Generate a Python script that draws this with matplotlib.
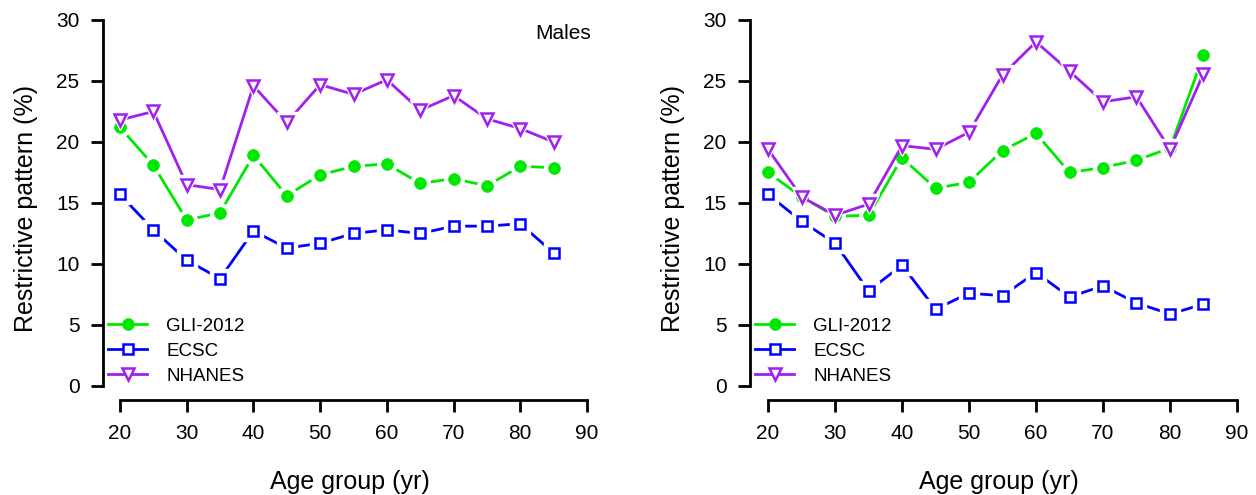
import matplotlib
matplotlib.use("Agg")
import matplotlib.pyplot as plt
from matplotlib.lines import Line2D

plt.rcParams['font.family'] = ['Liberation Sans', 'DejaVu Sans']

ages = [20, 25, 30, 35, 40, 45, 50, 55, 60, 65, 70, 75, 80, 85]

males_gli = [21.2, 18.1, 13.6, 14.2, 18.9, 15.6, 17.3, 18.0, 18.2, 16.6, 17.0, 16.4, 18.0, 17.9]
males_ecsc = [15.7, 12.8, 10.3, 8.8, 12.7, 11.3, 11.7, 12.5, 12.8, 12.5, 13.1, 13.1, 13.3, 10.9]
males_nhanes = [21.8, 22.5, 16.5, 16.1, 24.6, 21.6, 24.7, 23.9, 25.1, 22.6, 23.8, 21.9, 21.1, 20.0]

females_gli = [17.5, 15.5, 13.9, 14.0, 18.7, 16.2, 16.7, 19.3, 20.7, 17.5, 17.9, 18.5, 19.5, 27.1]
females_ecsc = [15.7, 13.5, 11.7, 7.8, 9.9, 6.3, 7.6, 7.4, 9.3, 7.3, 8.2, 6.8, 5.9, 6.7]
females_nhanes = [19.4, 15.5, 14.0, 14.9, 19.7, 19.4, 20.8, 25.5, 28.2, 25.8, 23.3, 23.7, 19.4, 25.6]

series_names = ['GLI-2012', 'ECSC', 'NHANES']
colors = ['#00E800', '#0000FF', '#A020F0']
markers = ['o', 's', 'v']

x_ticks = [20, 30, 40, 50, 60, 70, 80, 90]
y_ticks = [0, 5, 10, 15, 20, 25, 30]

W, H = 1256, 495
fig = plt.figure(figsize=(W / 100, H / 100), dpi=100)


def px_axes(left, top, right, bottom):
    return fig.add_axes([left / W, 1 - bottom / H, (right - left) / W, (bottom - top) / H])


def marker_kw(i):
    if markers[i] == 'o':
        return dict(marker='o', markersize=8.5, markerfacecolor=colors[i],
                    markeredgecolor=colors[i], markeredgewidth=0.5)
    if markers[i] == 's':
        return dict(marker='s', markersize=6.5, markerfacecolor='white',
                    markeredgecolor=colors[i], markeredgewidth=1.8)
    return dict(marker='v', markersize=8.5, markerfacecolor='white',
                markeredgecolor=colors[i], markeredgewidth=1.8)


def draw_panel(ax, data, xlim, title=None):
    for i, vals in enumerate(data):
        ax.plot(ages, vals, color=colors[i], lw=2.0, zorder=2 + i * 3, solid_capstyle='butt')
        ax.plot(ages, vals, ls='none', marker=markers[i], markersize=14,
                markerfacecolor='white', markeredgecolor='white', zorder=3 + i * 3)
        ax.plot(ages, vals, ls='none', zorder=4 + i * 3, **marker_kw(i))
    ax.set_xlim(*xlim)
    ax.set_ylim(-1.15, 30.3)
    ax.spines['top'].set_visible(False)
    ax.spines['right'].set_visible(False)
    ax.spines['left'].set_bounds(0, 30)
    ax.spines['bottom'].set_bounds(20, 90)
    for s in ('left', 'bottom'):
        ax.spines[s].set_linewidth(2.0)
    ax.set_xticks(x_ticks)
    ax.set_yticks(y_ticks)
    ax.tick_params(axis='y', length=8.5, width=2.0, labelsize=15, pad=8.5)
    ax.tick_params(axis='x', length=8.5, width=2.0, labelsize=15, pad=9)
    ax.set_xlabel('Age group (yr)', fontsize=18, labelpad=19)
    ax.set_ylabel('Restrictive pattern (%)', fontsize=18, labelpad=13)
    handles = [Line2D([], [], color=colors[i], lw=2.0, **marker_kw(i)) for i in range(3)]
    ax.legend(handles, series_names, loc='lower left', bbox_to_anchor=(0.01, 0.04),
              frameon=False, fontsize=13.5, handlelength=2.1, handletextpad=1.0,
              labelspacing=0.42, borderpad=0, borderaxespad=0)
    if title:
        ax.text(86.4, 28.9, title, fontsize=15, ha='center', va='center')


ax1 = px_axes(103, 16.3, 597, 400)
draw_panel(ax1, [males_gli, males_ecsc, males_nhanes], (17.45, 91.5), 'Males')

ax2 = px_axes(750, 16.3, 1247, 400)
draw_panel(ax2, [females_gli, females_ecsc, females_nhanes], (17.3, 91.5))

fig.savefig('out.png', dpi=100)
